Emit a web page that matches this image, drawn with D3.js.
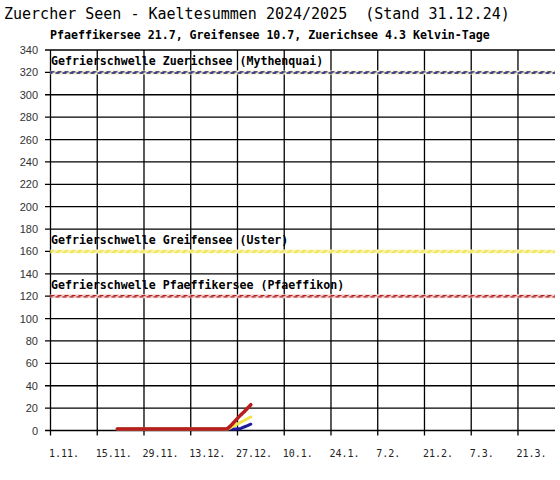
<!DOCTYPE html>
<html>
<head>
<meta charset="utf-8">
<script src="https://cdn.jsdelivr.net/npm/d3@7"></script>
<style>
  html, body { margin: 0; padding: 0; background: #fff; }
  svg { display: block; }
  text { font-family: "DejaVu Sans Mono", monospace; fill: #000; white-space: pre; }
</style>
</head>
<body>
<svg id="chart" width="560" height="480"></svg>
<script>
// Season window and two-week tick grid
const seasonStart = "2024-11-01";
const seasonEnd = "2025-04-01";
const tickDates = ["2024-11-01", "2024-11-15", "2024-11-29", "2024-12-13", "2024-12-27",
  "2025-01-10", "2025-01-24", "2025-02-07", "2025-02-21", "2025-03-07", "2025-03-21"];
const tickLabels = ["1.11.", "15.11.", "29.11.", "13.12.", "27.12.", "10.1.", "24.1.",
  "7.2.", "21.2.", "7.3.", "21.3."];
const yTicks = [0, 20, 40, 60, 80, 100, 120, 140, 160, 180, 200, 220, 240, 260, 280, 300, 320, 340];

// Daily cold sums (Kelvin-days) per lake
const dates = ["2024-11-21", "2024-12-23", "2024-12-24", "2024-12-25", "2024-12-26",
  "2024-12-27", "2024-12-28", "2024-12-29", "2024-12-30", "2024-12-31"];
const pfaeffikersee = [0, 0, 0.3, 3.0, 6.2, 9.5, 12.6, 15.4, 18.6, 21.7];
const greifensee = [0, 0, 0, 1.3, 2.9, 4.5, 6.1, 7.6, 9.2, 10.7];
const zuerichsee = [0, 0, 0, 0, 0, 0, 0.5, 1.8, 3.0, 4.3];

// Freezing thresholds
const thresholdNames = ["Gefrierschwelle Zuerichsee (Mythenquai)",
  "Gefrierschwelle Greifensee (Uster)",
  "Gefrierschwelle Pfaeffikersee (Pfaeffikon)"];
const thresholdValues = [320, 160, 120];

const title = "Zuercher Seen - Kaeltesummen 2024/2025  (Stand 31.12.24)";
const subtitle = "Pfaeffikersee 21.7, Greifensee 10.7, Zuerichsee 4.3 Kelvin-Tage";

const parse = d3.utcParse("%Y-%m-%d");
const svg = d3.select("#chart");

const x = d3.scaleUtc()
  .domain([parse(seasonStart), parse(seasonEnd)])
  .range([50.5, 554.7]);
const y = d3.scaleLinear().domain([0, 340]).range([430.5, 50]);

// Titles
svg.append("text").attr("x", 4).attr("y", 19)
  .attr("xml:space", "preserve")
  .style("font-size", "15px").text(title);
svg.append("text").attr("x", 50).attr("y", 39)
  .style("font-size", "11.6px").style("font-weight", "bold").text(subtitle);

// Horizontal grid with left ticks
const grid = svg.append("g");
grid.selectAll("line.h").data(yTicks).join("line")
  .attr("x1", 45).attr("x2", 555)
  .attr("y1", d => y(d)).attr("y2", d => y(d))
  .attr("stroke", "#000").attr("stroke-width", 1.3);

// Vertical grid with bottom ticks
grid.selectAll("line.v").data(tickDates).join("line")
  .attr("x1", d => x(parse(d))).attr("x2", d => x(parse(d)))
  .attr("y1", y(340)).attr("y2", y(0) + 5)
  .attr("stroke", "#000").attr("stroke-width", 1.3);

// Y labels
svg.append("g").selectAll("text").data(yTicks).join("text")
  .attr("x", 38).attr("y", d => y(d) + 4)
  .attr("text-anchor", "end")
  .style("font-family", "'Liberation Sans', Arial, sans-serif")
  .style("font-size", "11px").style("fill", "#333")
  .text(d => d);

// X labels
svg.append("g").selectAll("text").data(tickDates).join("text")
  .attr("x", (d, i) => x(parse(d)) - 1.5).attr("y", 457)
  .style("font-size", "10px").style("fill", "#222")
  .text((d, i) => tickLabels[i]);

// Threshold lines
const thrStyles = [
  { halo: "#f3efc8", line: "#1e1e78" },
  { halo: "#faf6c0", line: "#ece040" },
  { halo: "#f6d4d4", line: "#b02222" }
];
thresholdValues.forEach((v, i) => {
  const g = svg.append("g");
  g.append("line").attr("x1", 50.5).attr("x2", 555)
    .attr("y1", y(v)).attr("y2", y(v))
    .attr("stroke", thrStyles[i].halo).attr("stroke-width", 4);
  g.append("line").attr("x1", 50.5).attr("x2", 555)
    .attr("y1", y(v) - 0.5).attr("y2", y(v) - 0.5)
    .attr("stroke", thrStyles[i].line).attr("stroke-width", 1.3)
    .attr("stroke-dasharray", "4,3");
  g.append("line").attr("x1", 50.5).attr("x2", 555)
    .attr("y1", y(v) + 0.6).attr("y2", y(v) + 0.6)
    .attr("stroke", thrStyles[i].line).attr("stroke-width", 1.3)
    .attr("stroke-dasharray", "4,3").attr("stroke-dashoffset", 2);
  g.append("text").attr("x", 51).attr("y", y(v) - 7.5)
    .style("font-size", "11.6px").style("font-weight", "bold")
    .text(thresholdNames[i]);
});

// Cold sum series
const series = [
  { values: zuerichsee, color: "#1c1c9a", width: 3 },
  { values: greifensee, color: "#f0e448", width: 3 },
  { values: pfaeffikersee, color: "#b81e1e", width: 3.5 }
];
const line = d3.line()
  .x((d, i) => x(parse(dates[i])))
  .y(d => y(d) - 1.5);
series.forEach(s => {
  svg.append("path").datum(s.values)
    .attr("d", line)
    .attr("fill", "none")
    .attr("stroke", s.color)
    .attr("stroke-width", s.width)
    .attr("stroke-linejoin", "round")
    .attr("stroke-linecap", "round");
});
</script>
</body>
</html>
